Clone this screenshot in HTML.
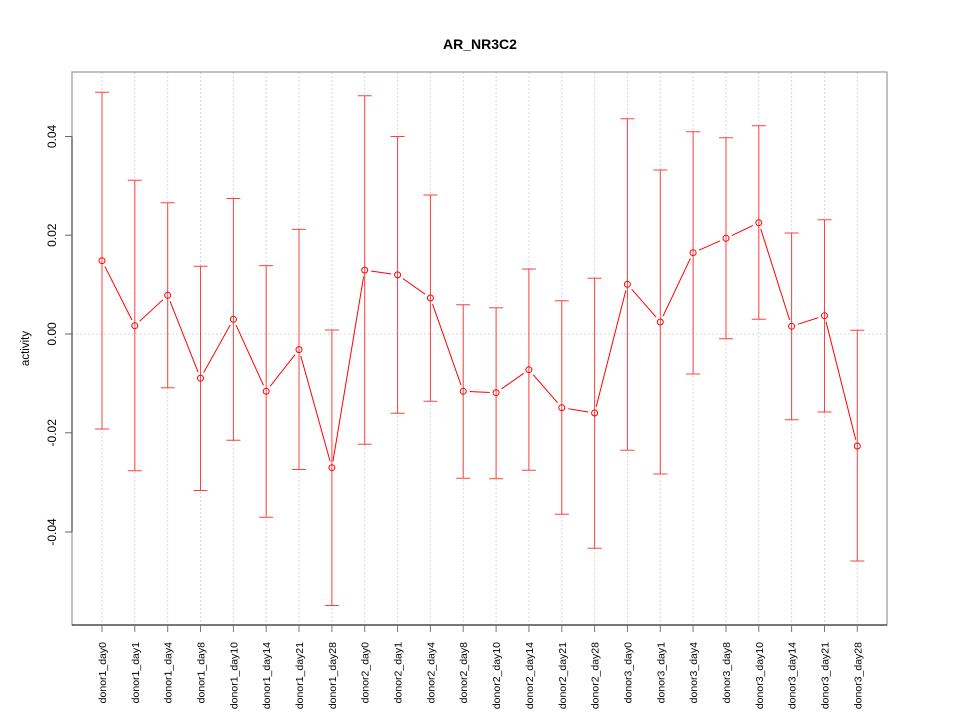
<!DOCTYPE html>
<html><head><meta charset="utf-8"><style>
html,body{margin:0;padding:0;background:#fff;}
svg{display:block;font-family:"Liberation Sans",Arial,sans-serif;}
</style></head><body>
<svg width="960" height="720" viewBox="0 0 960 720" xmlns="http://www.w3.org/2000/svg">
<rect width="960" height="720" fill="#fff"/>
<g stroke="#d8d8d8" stroke-width="1" stroke-dasharray="2,2">
<line x1="102" y1="72" x2="102" y2="625"/><line x1="134.8" y1="72" x2="134.8" y2="625"/><line x1="167.7" y1="72" x2="167.7" y2="625"/><line x1="200.5" y1="72" x2="200.5" y2="625"/><line x1="233.4" y1="72" x2="233.4" y2="625"/><line x1="266.2" y1="72" x2="266.2" y2="625"/><line x1="299" y1="72" x2="299" y2="625"/><line x1="331.9" y1="72" x2="331.9" y2="625"/><line x1="364.7" y1="72" x2="364.7" y2="625"/><line x1="397.6" y1="72" x2="397.6" y2="625"/><line x1="430.4" y1="72" x2="430.4" y2="625"/><line x1="463.2" y1="72" x2="463.2" y2="625"/><line x1="496.1" y1="72" x2="496.1" y2="625"/><line x1="528.9" y1="72" x2="528.9" y2="625"/><line x1="561.8" y1="72" x2="561.8" y2="625"/><line x1="594.6" y1="72" x2="594.6" y2="625"/><line x1="627.4" y1="72" x2="627.4" y2="625"/><line x1="660.3" y1="72" x2="660.3" y2="625"/><line x1="693.1" y1="72" x2="693.1" y2="625"/><line x1="726" y1="72" x2="726" y2="625"/><line x1="758.8" y1="72" x2="758.8" y2="625"/><line x1="791.6" y1="72" x2="791.6" y2="625"/><line x1="824.5" y1="72" x2="824.5" y2="625"/><line x1="857.3" y1="72" x2="857.3" y2="625"/>
<line x1="72" y1="334" x2="887" y2="334"/>
</g>
<polyline fill="none" stroke="#ff0000" stroke-width="1" points="102,260.7 134.8,325.7 167.7,295.3 200.5,378.2 233.4,319.3 266.2,391.3 299,349.6 331.9,467.7 364.7,270.1 397.6,274.9 430.4,298 463.2,391.3 496.1,392.7 528.9,369.7 561.8,407.7 594.6,413 627.4,284.3 660.3,322 693.1,252.7 726,238.3 758.8,222.7 791.6,326.3 824.5,315.7 857.3,446"/>
<g fill="#fff" stroke="none">
<circle cx="102" cy="260.7" r="6.5"/><circle cx="134.8" cy="325.7" r="6.5"/><circle cx="167.7" cy="295.3" r="6.5"/><circle cx="200.5" cy="378.2" r="6.5"/><circle cx="233.4" cy="319.3" r="6.5"/><circle cx="266.2" cy="391.3" r="6.5"/><circle cx="299" cy="349.6" r="6.5"/><circle cx="331.9" cy="467.7" r="6.5"/><circle cx="364.7" cy="270.1" r="6.5"/><circle cx="397.6" cy="274.9" r="6.5"/><circle cx="430.4" cy="298" r="6.5"/><circle cx="463.2" cy="391.3" r="6.5"/><circle cx="496.1" cy="392.7" r="6.5"/><circle cx="528.9" cy="369.7" r="6.5"/><circle cx="561.8" cy="407.7" r="6.5"/><circle cx="594.6" cy="413" r="6.5"/><circle cx="627.4" cy="284.3" r="6.5"/><circle cx="660.3" cy="322" r="6.5"/><circle cx="693.1" cy="252.7" r="6.5"/><circle cx="726" cy="238.3" r="6.5"/><circle cx="758.8" cy="222.7" r="6.5"/><circle cx="791.6" cy="326.3" r="6.5"/><circle cx="824.5" cy="315.7" r="6.5"/><circle cx="857.3" cy="446" r="6.5"/>
</g>
<g stroke="#ff4040" stroke-width="1" fill="none">
<path d="M102,92.3V429M95,92.3H109M95,429H109"/>
<path d="M134.8,180.3V470.7M127.8,180.3H141.8M127.8,470.7H141.8"/>
<path d="M167.7,202.7V387.7M160.7,202.7H174.7M160.7,387.7H174.7"/>
<path d="M200.5,266.3V490.5M193.5,266.3H207.5M193.5,490.5H207.5"/>
<path d="M233.4,198.5V440.2M226.4,198.5H240.4M226.4,440.2H240.4"/>
<path d="M266.2,265.6V517.3M259.2,265.6H273.2M259.2,517.3H273.2"/>
<path d="M299,229.4V469.5M292,229.4H306M292,469.5H306"/>
<path d="M331.9,330V605.5M324.9,330H338.9M324.9,605.5H338.9"/>
<path d="M364.7,95.8V444.3M357.7,95.8H371.7M357.7,444.3H371.7"/>
<path d="M397.6,136.5V413.3M390.6,136.5H404.6M390.6,413.3H404.6"/>
<path d="M430.4,195V401.3M423.4,195H437.4M423.4,401.3H437.4"/>
<path d="M463.2,304.7V478.3M456.2,304.7H470.2M456.2,478.3H470.2"/>
<path d="M496.1,307.7V478.7M489.1,307.7H503.1M489.1,478.7H503.1"/>
<path d="M528.9,269V470.3M521.9,269H535.9M521.9,470.3H535.9"/>
<path d="M561.8,300.7V514.3M554.8,300.7H568.8M554.8,514.3H568.8"/>
<path d="M594.6,278.3V548.3M587.6,278.3H601.6M587.6,548.3H601.6"/>
<path d="M627.4,118.7V450.3M620.4,118.7H634.4M620.4,450.3H634.4"/>
<path d="M660.3,170V474M653.3,170H667.3M653.3,474H667.3"/>
<path d="M693.1,131.7V374M686.1,131.7H700.1M686.1,374H700.1"/>
<path d="M726,137.7V338.7M719,137.7H733M719,338.7H733"/>
<path d="M758.8,125.7V319.3M751.8,125.7H765.8M751.8,319.3H765.8"/>
<path d="M791.6,233V419.7M784.6,233H798.6M784.6,419.7H798.6"/>
<path d="M824.5,219.7V412M817.5,219.7H831.5M817.5,412H831.5"/>
<path d="M857.3,330.3V561M850.3,330.3H864.3M850.3,561H864.3"/>
</g>
<g fill="none" stroke="#ff0000" stroke-width="1">
<circle cx="102" cy="260.7" r="3"/><circle cx="134.8" cy="325.7" r="3"/><circle cx="167.7" cy="295.3" r="3"/><circle cx="200.5" cy="378.2" r="3"/><circle cx="233.4" cy="319.3" r="3"/><circle cx="266.2" cy="391.3" r="3"/><circle cx="299" cy="349.6" r="3"/><circle cx="331.9" cy="467.7" r="3"/><circle cx="364.7" cy="270.1" r="3"/><circle cx="397.6" cy="274.9" r="3"/><circle cx="430.4" cy="298" r="3"/><circle cx="463.2" cy="391.3" r="3"/><circle cx="496.1" cy="392.7" r="3"/><circle cx="528.9" cy="369.7" r="3"/><circle cx="561.8" cy="407.7" r="3"/><circle cx="594.6" cy="413" r="3"/><circle cx="627.4" cy="284.3" r="3"/><circle cx="660.3" cy="322" r="3"/><circle cx="693.1" cy="252.7" r="3"/><circle cx="726" cy="238.3" r="3"/><circle cx="758.8" cy="222.7" r="3"/><circle cx="791.6" cy="326.3" r="3"/><circle cx="824.5" cy="315.7" r="3"/><circle cx="857.3" cy="446" r="3"/>
</g>
<rect x="72" y="72" width="815" height="553" fill="none" stroke="#999" stroke-width="1.2"/>
<line x1="72" y1="625" x2="887" y2="625" stroke="#333" stroke-width="1.2"/>
<line x1="72" y1="136.5" x2="72" y2="532" stroke="#555" stroke-width="1.2"/>
<g stroke="#666" stroke-width="1">
<line x1="65" y1="136.5" x2="72" y2="136.5"/><line x1="65" y1="235.2" x2="72" y2="235.2"/><line x1="65" y1="334" x2="72" y2="334"/><line x1="65" y1="432.8" x2="72" y2="432.8"/><line x1="65" y1="532" x2="72" y2="532"/>
</g>
<g stroke="#777" stroke-width="1">
<line x1="102" y1="625" x2="102" y2="632"/><line x1="134.8" y1="625" x2="134.8" y2="632"/><line x1="167.7" y1="625" x2="167.7" y2="632"/><line x1="200.5" y1="625" x2="200.5" y2="632"/><line x1="233.4" y1="625" x2="233.4" y2="632"/><line x1="266.2" y1="625" x2="266.2" y2="632"/><line x1="299" y1="625" x2="299" y2="632"/><line x1="331.9" y1="625" x2="331.9" y2="632"/><line x1="364.7" y1="625" x2="364.7" y2="632"/><line x1="397.6" y1="625" x2="397.6" y2="632"/><line x1="430.4" y1="625" x2="430.4" y2="632"/><line x1="463.2" y1="625" x2="463.2" y2="632"/><line x1="496.1" y1="625" x2="496.1" y2="632"/><line x1="528.9" y1="625" x2="528.9" y2="632"/><line x1="561.8" y1="625" x2="561.8" y2="632"/><line x1="594.6" y1="625" x2="594.6" y2="632"/><line x1="627.4" y1="625" x2="627.4" y2="632"/><line x1="660.3" y1="625" x2="660.3" y2="632"/><line x1="693.1" y1="625" x2="693.1" y2="632"/><line x1="726" y1="625" x2="726" y2="632"/><line x1="758.8" y1="625" x2="758.8" y2="632"/><line x1="791.6" y1="625" x2="791.6" y2="632"/><line x1="824.5" y1="625" x2="824.5" y2="632"/><line x1="857.3" y1="625" x2="857.3" y2="632"/>
</g>
<text x="480" y="49" text-anchor="middle" font-size="14" font-weight="bold" fill="#000">AR_NR3C2</text>
<text transform="translate(29,348.5) rotate(-90)" text-anchor="middle" font-size="11.5" fill="#000">activity</text>
<g font-size="12" fill="#000" text-anchor="middle">
<text transform="translate(56,136.5) rotate(-90)">0.04</text>
<text transform="translate(56,235.2) rotate(-90)">0.02</text>
<text transform="translate(56,334) rotate(-90)">0.00</text>
<text transform="translate(56,432.8) rotate(-90)">-0.02</text>
<text transform="translate(56,532) rotate(-90)">-0.04</text>
</g>
<g font-size="10.5" fill="#000" text-anchor="end">
<text transform="translate(106,642) rotate(-90)">donor1_day0</text>
<text transform="translate(138.8,642) rotate(-90)">donor1_day1</text>
<text transform="translate(171.7,642) rotate(-90)">donor1_day4</text>
<text transform="translate(204.5,642) rotate(-90)">donor1_day8</text>
<text transform="translate(237.4,642) rotate(-90)">donor1_day10</text>
<text transform="translate(270.2,642) rotate(-90)">donor1_day14</text>
<text transform="translate(303,642) rotate(-90)">donor1_day21</text>
<text transform="translate(335.9,642) rotate(-90)">donor1_day28</text>
<text transform="translate(368.7,642) rotate(-90)">donor2_day0</text>
<text transform="translate(401.6,642) rotate(-90)">donor2_day1</text>
<text transform="translate(434.4,642) rotate(-90)">donor2_day4</text>
<text transform="translate(467.2,642) rotate(-90)">donor2_day8</text>
<text transform="translate(500.1,642) rotate(-90)">donor2_day10</text>
<text transform="translate(532.9,642) rotate(-90)">donor2_day14</text>
<text transform="translate(565.8,642) rotate(-90)">donor2_day21</text>
<text transform="translate(598.6,642) rotate(-90)">donor2_day28</text>
<text transform="translate(631.4,642) rotate(-90)">donor3_day0</text>
<text transform="translate(664.3,642) rotate(-90)">donor3_day1</text>
<text transform="translate(697.1,642) rotate(-90)">donor3_day4</text>
<text transform="translate(730,642) rotate(-90)">donor3_day8</text>
<text transform="translate(762.8,642) rotate(-90)">donor3_day10</text>
<text transform="translate(795.6,642) rotate(-90)">donor3_day14</text>
<text transform="translate(828.5,642) rotate(-90)">donor3_day21</text>
<text transform="translate(861.3,642) rotate(-90)">donor3_day28</text>
</g>
</svg>
</body></html>
